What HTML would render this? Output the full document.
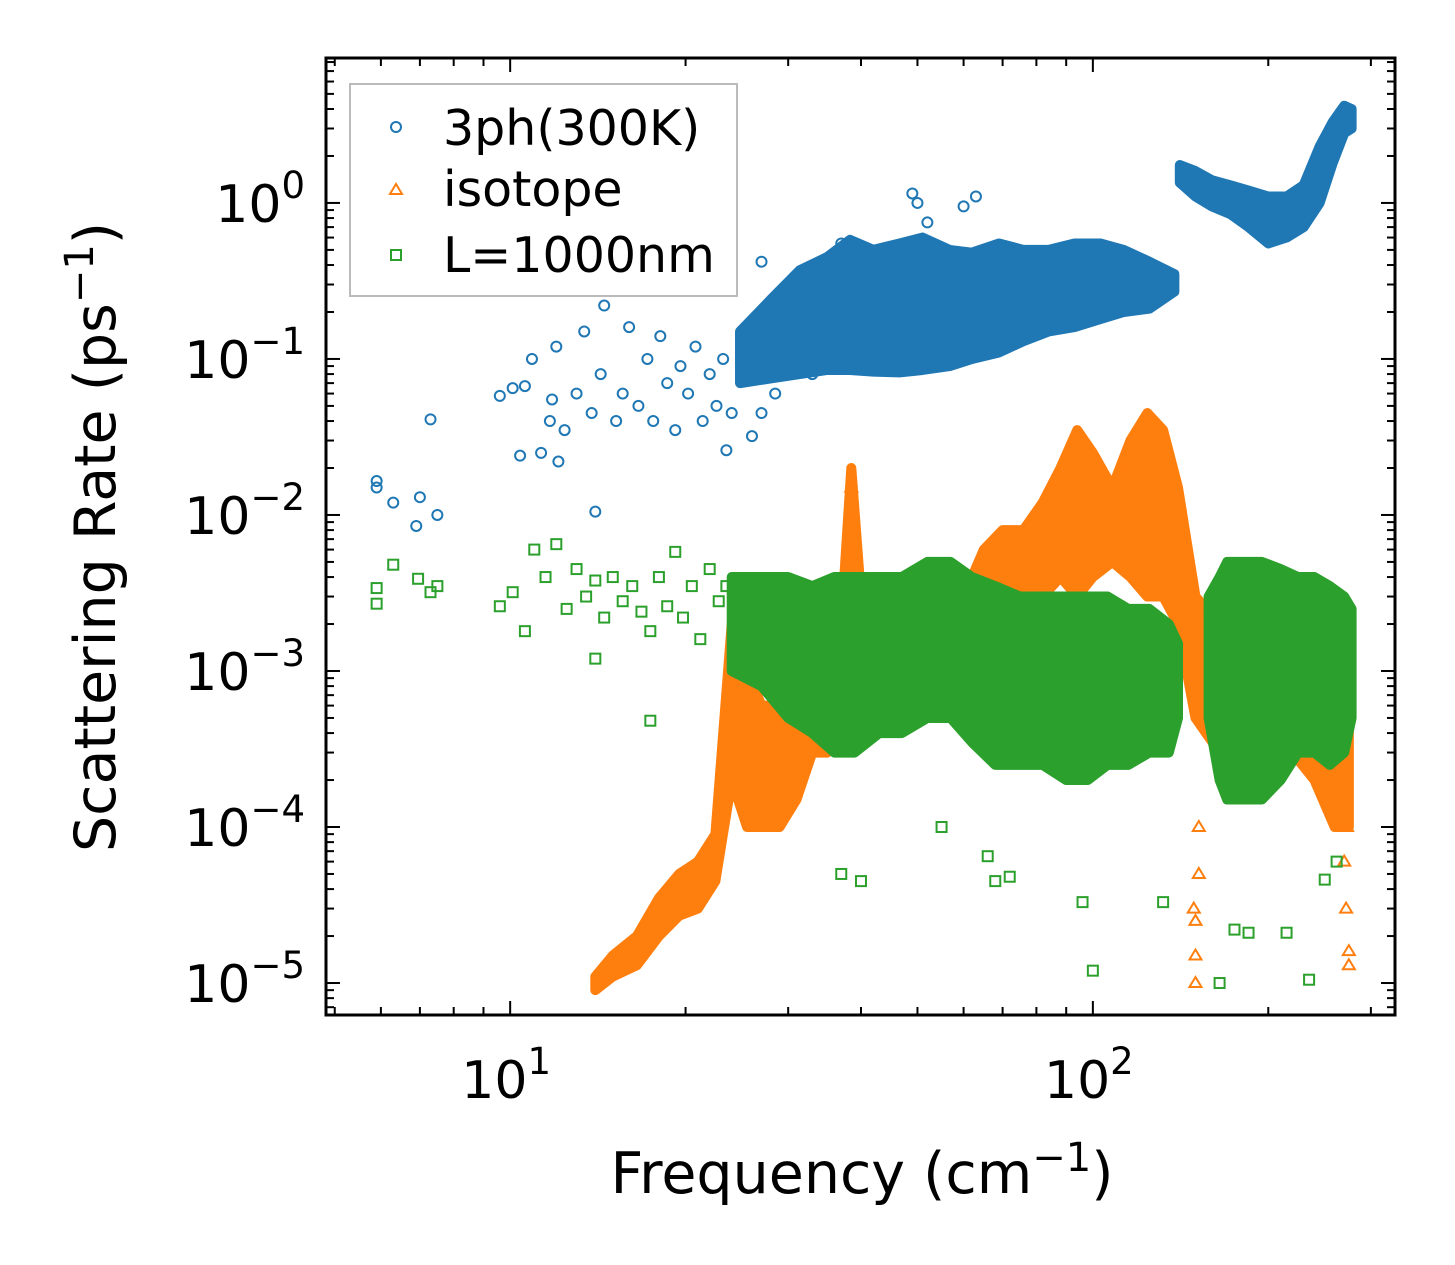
<!DOCTYPE html>
<html><head><meta charset="utf-8">
<style>
html,body{margin:0;padding:0;background:#fff;}
svg{display:block;font-family:"DejaVu Sans","Liberation Sans",sans-serif;}
</style></head>
<body>
<svg id="chart" width="1455" height="1265" viewBox="0 0 1455 1265" xmlns="http://www.w3.org/2000/svg">
<rect x="0" y="0" width="1455" height="1265" fill="#fff"/>
<g id="bands"></g>
<g id="marks"></g>
<g id="axes"></g>
<text x="862" y="1193" font-size="57" text-anchor="middle">Frequency (cm<tspan dy="-22" font-size="40">−1</tspan><tspan dy="22">)</tspan></text>
<text transform="translate(115,537) rotate(-90)" font-size="57" text-anchor="middle">Scattering Rate (ps<tspan dy="-22" font-size="40">−1</tspan><tspan dy="22">)</tspan></text>
<g>
<rect x="350" y="84" width="387" height="212" fill="#fff" stroke="#bbb" stroke-width="2"/>
<circle cx="396" cy="127" r="5" fill="none" stroke="#1f77b4" stroke-width="2"/>
<text x="443" y="145" font-size="49">3ph(300K)</text>
<path d="M396,184 L402,194 L390,194 Z" fill="none" stroke="#ff7f0e" stroke-width="2"/>
<text x="443" y="206" font-size="49">isotope</text>
<rect x="391" y="250" width="10" height="10" fill="none" stroke="#2ca02c" stroke-width="2"/>
<text x="443" y="272" font-size="49">L=1000nm</text>
</g>
</svg>
<script>
// ---- data ----
const blueScatterFreq=[5.9,5.9,6.3,6.9,7.0,7.3,7.5,9.6,10.1,10.4,10.6,10.9,11.3,11.7,11.8,12.0,12.1,12.4,13.0,13.4,13.8,14.0,14.3,14.5,15.2,15.6,16.0,16.6,17.2,17.6,18.1,18.6,19.2,19.6,20.2,20.8,21.4,22.0,22.6,23.2,23.5,24.0,26.0,27.0,28.5,30.0,33,37,44,49,50,52,60,63,23.2,27];
const blueScatterRate=[0.0165,0.015,0.012,0.0085,0.013,0.041,0.010,0.058,0.065,0.024,0.067,0.10,0.025,0.04,0.055,0.12,0.022,0.035,0.06,0.15,0.045,0.0105,0.08,0.22,0.04,0.06,0.16,0.05,0.1,0.04,0.14,0.07,0.035,0.09,0.06,0.12,0.04,0.08,0.05,0.1,0.026,0.045,0.032,0.045,0.06,0.12,0.08,0.55,0.4,1.15,1.0,0.75,0.95,1.1,0.44,0.42];
const blueBand1Freq=[24.8,28,31.4,35,38.3,42,46.6,51,56.8,62,69,76,84,93,103,113,125,138];
const blueBand1Upper=[0.15,0.24,0.37,0.45,0.58,0.5,0.55,0.6,0.5,0.48,0.55,0.5,0.5,0.55,0.55,0.5,0.42,0.35];
const blueBand1Lower=[0.07,0.075,0.08,0.085,0.085,0.083,0.082,0.085,0.09,0.1,0.11,0.13,0.15,0.16,0.18,0.2,0.21,0.27];
const blueBand2Freq=[141,150,160,172,185,200,215,230,245,258,270,278];
const blueBand2Upper=[1.75,1.6,1.4,1.3,1.2,1.1,1.1,1.3,2.3,3.3,4.2,4.0];
const blueBand2Lower=[1.35,1.1,0.95,0.85,0.7,0.55,0.6,0.7,1.0,1.8,2.8,3.0];
const orangeBandFreq=[14,15,16.5,18,19.5,21,22.5,24,25.5,27,29,31,33,35,37,38.5,40,43,46,50,55,60,65,70,76,82,88,94,100,108,116,124,132,140,150,165,180,200,220,240,260,275];
const orangeBandUpper=[1.1e-5,1.5e-5,2e-5,3.5e-5,5e-5,6e-5,9e-5,2e-3,1e-3,6e-4,6e-4,8e-4,1e-3,1.2e-3,2e-3,0.02,3e-3,2e-3,1.5e-3,1.5e-3,2e-3,3e-3,6e-3,8e-3,8e-3,0.012,0.02,0.035,0.025,0.015,0.03,0.045,0.035,0.015,3e-3,2e-3,2e-3,2e-3,1.5e-3,1.5e-3,1.5e-3,1e-3];
const orangeBandLower=[9e-6,1.1e-5,1.3e-5,2e-5,2.7e-5,3e-5,4.5e-5,2e-4,1e-4,1e-4,1e-4,1.5e-4,3e-4,3e-4,4e-4,4e-4,5e-4,6e-4,6e-4,6e-4,8e-4,1e-3,2e-3,2.5e-3,3e-3,3e-3,4e-3,3e-3,4e-3,5e-3,4e-3,3e-3,3e-3,2e-3,5e-4,3e-4,3e-4,3e-4,3e-4,2e-4,1e-4,1e-4];
const orangeScatterFreq=[150,150,150,152,152,149,275,275,272,270,273,38.5,38.5,38.5];
const orangeScatterRate=[1e-5,1.5e-5,2.5e-5,5e-5,1e-4,3e-5,1.3e-5,1.6e-5,3e-5,6e-5,1e-4,0.015,0.01,0.006];
const greenBandAFreq=[24,27,30,33,36,39,43,47,52,57,62,68,75,82,90,98,106,115,125,135,140];
const greenBandAUpper=[4e-3,4e-3,4e-3,3.5e-3,4e-3,4e-3,4e-3,4e-3,5e-3,5e-3,4e-3,3.5e-3,3e-3,3e-3,3e-3,3e-3,3e-3,2.5e-3,2.5e-3,2e-3,1.5e-3];
const greenBandALower=[1e-3,8e-4,5e-4,4e-4,3e-4,3e-4,4e-4,4e-4,5e-4,5e-4,3.5e-4,2.5e-4,2.5e-4,2.5e-4,2e-4,2e-4,2.5e-4,2.5e-4,3e-4,3e-4,5e-4];
const greenBandBFreq=[158,165,170,180,195,210,225,240,255,270,278];
const greenBandBUpper=[3e-3,4e-3,5e-3,5e-3,5e-3,4.5e-3,4e-3,4e-3,3.5e-3,3e-3,2.5e-3];
const greenBandBLower=[5e-4,2e-4,1.5e-4,1.5e-4,1.5e-4,2e-4,3e-4,3e-4,2.5e-4,3e-4,5e-4];
const greenScatterFreq=[5.9,5.9,6.3,6.95,7.3,7.5,9.6,10.1,10.6,11.0,11.5,12.0,12.5,13.0,13.5,14.0,14.5,15.0,15.6,16.2,16.8,17.4,18.0,18.6,19.2,19.8,20.5,21.2,22.0,22.8,23.5,14,17.4,40,37,55,66,68,72,96,100,132,165,175,185,215,235,250,262];
const greenScatterRate=[2.7e-3,3.4e-3,4.8e-3,3.9e-3,3.2e-3,3.5e-3,2.6e-3,3.2e-3,1.8e-3,6e-3,4e-3,6.5e-3,2.5e-3,4.5e-3,3e-3,3.8e-3,2.2e-3,4e-3,2.8e-3,3.5e-3,2.4e-3,1.8e-3,4e-3,2.6e-3,5.8e-3,2.2e-3,3.5e-3,1.6e-3,4.5e-3,2.8e-3,3.5e-3,1.2e-3,4.8e-4,4.5e-5,5e-5,1e-4,6.5e-5,4.5e-5,4.8e-5,3.3e-5,1.2e-5,3.3e-5,1e-5,2.2e-5,2.1e-5,2.1e-5,1.05e-5,4.6e-5,6e-5];
const xTickVals=[10,100];
const xTickExp=["1","2"];
const yTickVals=[1,0.1,0.01,1e-3,1e-4,1e-5];
const yTickExp=["0","−1","−2","−3","−4","−5"];

// ---- axes ----
const X0=326,X1=1395,Y0=58,Y1=1015;
const xmin=Math.log10(4.83),xmax=Math.log10(330);
const ymin=-5.205,ymax=0.929;
function sx(v){return X0+(Math.log10(v)-xmin)/(xmax-xmin)*(X1-X0);}
function sy(v){return Y1-(Math.log10(v)-ymin)/(ymax-ymin)*(Y1-Y0);}
const NS="http://www.w3.org/2000/svg";
function mk(tag,attrs,parent){const e=document.createElementNS(NS,tag);for(const k in attrs)e.setAttribute(k,attrs[k]);parent.appendChild(e);return e;}
const bands=document.getElementById('bands'),marks=document.getElementById('marks'),axes=document.getElementById('axes');
const C={blue:'#1f77b4',orange:'#ff7f0e',green:'#2ca02c'};

function band(f,u,l,color,name){
  let pts=[];
  for(let i=0;i<f.length;i++)pts.push(sx(f[i])+','+sy(u[i]));
  for(let i=f.length-1;i>=0;i--)pts.push(sx(f[i])+','+sy(l[i]));
  const p=mk('polygon',{points:pts.join(' '),fill:color,stroke:color,'stroke-width':10,'stroke-linejoin':'round'},bands);
  
  
}
function marker(type,x,y,color,name){
  let e;
  if(type==='c')e=mk('circle',{cx:x,cy:y,r:5,fill:'none',stroke:color,'stroke-width':2},marks);
  else if(type==='t')e=mk('path',{d:`M${x},${y-6} L${x+6},${y+4} L${x-6},${y+4} Z`,fill:'none',stroke:color,'stroke-width':2},marks);
  else e=mk('rect',{x:x-5,y:y-5,width:10,height:10,fill:'none',stroke:color,'stroke-width':2},marks);
  
  
}
function scatter(f,r,type,color,name){for(let i=0;i<f.length;i++)marker(type,sx(f[i]),sy(r[i]),color,name);}

band(blueBand1Freq,blueBand1Upper,blueBand1Lower,C.blue,'3ph-dense-region');
band(blueBand2Freq,blueBand2Upper,blueBand2Lower,C.blue,'3ph-high-freq-region');
band(orangeBandFreq,orangeBandUpper,orangeBandLower,C.orange,'isotope-dense-region');
band(greenBandAFreq,greenBandAUpper,greenBandALower,C.green,'boundary-dense-region-a');
band(greenBandBFreq,greenBandBUpper,greenBandBLower,C.green,'boundary-dense-region-b');
scatter(blueScatterFreq,blueScatterRate,'c',C.blue,'3ph-point');
scatter(orangeScatterFreq,orangeScatterRate,'t',C.orange,'isotope-point');
scatter(greenScatterFreq,greenScatterRate,'s',C.green,'boundary-point');

// frame
const fr=mk('rect',{x:X0,y:Y0,width:X1-X0,height:Y1-Y0,fill:'none',stroke:'#000','stroke-width':3},axes);


function tick(x1,y1,x2,y2){mk('line',{x1,y1,x2,y2,stroke:'#000','stroke-width':2},axes);}
for(let d=0;d<=3;d++){for(let m=1;m<=9;m++){const v=m*Math.pow(10,d);const x=sx(v);if(x<X0||x>X1)continue;const L=m===1?14:8;tick(x,Y1,x,Y1-L);tick(x,Y0,x,Y0+L);}}
for(let d=-6;d<=1;d++){for(let m=1;m<=9;m++){const v=m*Math.pow(10,d);const y=sy(v);if(y<Y0||y>Y1)continue;const L=m===1?14:8;tick(X0,y,X0+L,y);tick(X1,y,X1-L,y);}}
xTickVals.forEach((v,i)=>{
  const t=mk('text',{x:sx(v)-4,y:1098,'font-size':52,'text-anchor':'middle'},axes);
  
  
  t.textContent='10';
  const s=mk('tspan',{dy:-24,'font-size':37},t);s.textContent=xTickExp[i];
});
yTickVals.forEach((v,i)=>{
  const t=mk('text',{x:305,y:sy(v)+19,'font-size':52,'text-anchor':'end'},axes);
  
  
  t.textContent='10';
  const s=mk('tspan',{dy:-24,'font-size':37},t);s.textContent=yTickExp[i];
});
</script>
</body></html>
